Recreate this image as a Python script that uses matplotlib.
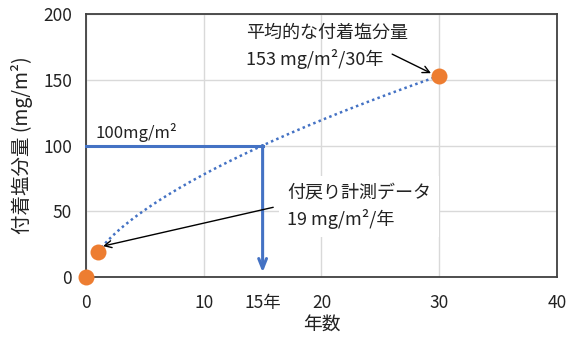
import numpy as np
import matplotlib
matplotlib.use("Agg")
import matplotlib.pyplot as plt

plt.rcParams['font.family'] = ['Noto Sans CJK JP', 'DejaVu Sans']

# data
years = [0, 1, 30]
salt = [0, 19, 153]
fit_years = [1, 30]
fit_salt = [19, 153]
target_salt = 100
target_year = 15
xticks = [0, 10, 20, 30, 40]
yticks = [0, 50, 100, 150, 200]

blue = '#4472C4'
orange = '#ED7D31'

fig = plt.figure(figsize=(5.72, 3.38), dpi=100)
ax = fig.add_axes([0.1503, 0.1805, 0.8235, 0.778])
ax.set_xlim(0, 40)
ax.set_ylim(0, 200)

# grid
ax.set_xticks(xticks)
ax.set_yticks(yticks)
ax.set_xticks([target_year], minor=True)
ax.set_xticklabels([str(v) for v in xticks])
ax.set_xticklabels([f'{target_year}年'], minor=True)
ax.grid(True, which='major', color='#D9D9D9', lw=1.0)
ax.set_axisbelow(True)
ax.tick_params(which='both', length=0, labelsize=12.5, colors='#222222')
ax.tick_params(axis='x', which='both', pad=12)
ax.tick_params(axis='y', pad=10)
for s in ax.spines.values():
    s.set_color('#404040')
    s.set_linewidth(1.3)

# power trendline fitted from the two measured points
b, loga = np.polyfit(np.log(fit_years), np.log(fit_salt), 1)
xs = np.linspace(fit_years[0], fit_years[-1], 200)
ax.plot(xs, np.exp(loga) * xs ** b, color=blue, ls=(0, (1, 1.3)), lw=1.8, zorder=3)

# target lines
ax.plot([0, target_year], [target_salt, target_salt], color=blue, lw=2.2, zorder=3, clip_on=False)
ax.annotate('', xy=(target_year, 3.5), xytext=(target_year, target_salt),
            arrowprops=dict(arrowstyle='->,head_length=0.7,head_width=0.28', color=blue, lw=2.2,
                            shrinkA=0, shrinkB=0), zorder=3)

# points
ax.plot(years, salt, 'o', color=orange, ms=11.5, mec='none', clip_on=False, zorder=5)

ax.text(0.8, 106, '100mg/m²', fontsize=12, color='#222222')

ax.text(13.6, 158.5, '平均的な付着塩分量\n153 mg/m²/30年', fontsize=13, color='#222222',
        linespacing=1.45, va='bottom')
ax.annotate('', xy=(29.3, 155), xytext=(26.0, 169.5),
            arrowprops=dict(arrowstyle='->,head_length=0.5,head_width=0.25', color='black', lw=1.0,
                            shrinkA=0, shrinkB=0))

ax.text(17.1, 36.5, '付戻り計測データ\n19 mg/m²/年', fontsize=13, color='#222222',
        linespacing=1.45, va='bottom',
        bbox=dict(boxstyle='square,pad=0.45', fc='white', ec='none'), zorder=4)
ax.annotate('', xy=(1.45, 23.5), xytext=(15.9, 53),
            arrowprops=dict(arrowstyle='->,head_length=0.5,head_width=0.25', color='black', lw=1.0,
                            shrinkA=0, shrinkB=0), zorder=6)

ax.set_xlabel('年数', fontsize=13.5, color='#222222', labelpad=2)
ax.set_ylabel('付着塩分量 (mg/m²)', fontsize=14, color='#222222', labelpad=7)

fig.savefig('out.png', dpi=100)
